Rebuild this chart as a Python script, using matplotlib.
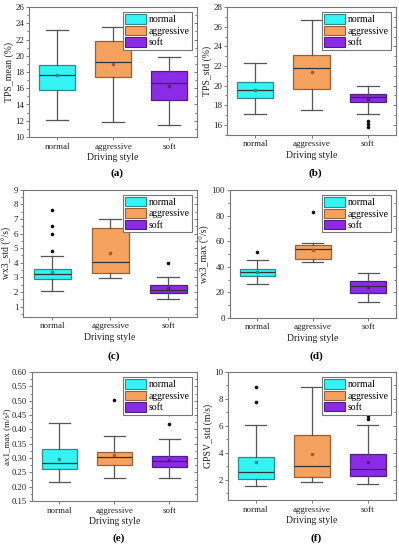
import matplotlib.pyplot as plt
from matplotlib.patches import Patch
from matplotlib.ticker import MultipleLocator

plt.rcParams['font.family'] = ['Liberation Serif', 'DejaVu Serif']
plt.rcParams['font.size'] = 7

styles = ['normal', 'aggressive', 'soft']
colors = ['#33f3f3', '#f5a25e', '#8b2be6']
edges = ['#2a8c8c', '#96603a', '#4e2080']

# per style: whisker low, Q1, median, Q3, whisker high
tps_mean = [[12.1, 15.8, 17.6, 18.9, 23.2],
            [11.9, 17.4, 19.2, 21.8, 23.6],
            [11.5, 14.6, 16.7, 18.1, 19.8]]
tps_mean_avg = [17.6, 19.0, 16.3]
tps_mean_out = [[], [], []]

tps_std = [[17.1, 18.7, 19.6, 20.4, 22.3],
           [17.5, 19.7, 21.8, 23.1, 26.7],
           [17.1, 18.3, 18.8, 19.2, 20.0]]
tps_std_avg = [19.6, 21.4, 18.6]
tps_std_out = [[], [], [16.4, 16.1, 15.8]]

wx3_std = [[2.1, 2.88, 3.2, 3.6, 4.45],
           [2.95, 3.3, 4.05, 6.4, 7.0],
           [1.5, 1.95, 2.15, 2.5, 3.0]]
wx3_std_avg = [3.4, 4.65, 2.25]
wx3_std_out = [[4.8, 6.0, 6.5, 7.6], [], [3.95]]

wx3_max = [[26.4, 32.4, 35.5, 38.4, 45.2],
           [44.0, 45.7, 53.5, 57.0, 58.7],
           [12.8, 19.8, 25.0, 29.0, 35.2]]
wx3_max_avg = [36.0, 53.0, 24.5]
wx3_max_out = [[51.2], [82.8], []]

ax1_max = [[0.216, 0.261, 0.282, 0.332, 0.421],
           [0.229, 0.276, 0.304, 0.322, 0.378],
           [0.230, 0.269, 0.289, 0.308, 0.366]]
ax1_max_avg = [0.297, 0.311, 0.293]
ax1_max_out = [[], [0.501], [0.418, 0.453]]

gpsv_std = [[1.5, 2.05, 2.6, 3.68, 6.05],
            [1.8, 2.17, 3.05, 5.33, 8.9],
            [1.7, 2.3, 2.82, 3.93, 6.05]]
gpsv_std_avg = [3.3, 3.9, 3.35]
gpsv_std_out = [[7.75, 8.9], [], [6.5, 6.7]]

fig = plt.figure(figsize=(3.99, 5.50), dpi=100)


def panel(rect, box, avg, out, ylabel, ylim, major, minor, tag):
    ax = fig.add_axes(rect)
    stats = []
    for s, m, f in zip(box, avg, out):
        stats.append(dict(whislo=s[0], q1=s[1], med=s[2], q3=s[3],
                          whishi=s[4], mean=m, fliers=f))
    bp = ax.bxp(stats, positions=[1, 2, 3], widths=0.64, capwidths=0.38,
                patch_artist=True, showmeans=True,
                whiskerprops=dict(color='#555555', lw=0.9),
                capprops=dict(color='#555555', lw=0.9),
                medianprops=dict(color='#333333', lw=0.9),
                flierprops=dict(marker='o', markersize=1.6,
                                markerfacecolor='#111111',
                                markeredgecolor='#111111'),
                meanprops=dict(marker='s', markersize=1.4))
    for i in range(3):
        bp['boxes'][i].set_facecolor(colors[i])
        bp['boxes'][i].set_edgecolor(edges[i])
        bp['boxes'][i].set_linewidth(0.9)
        bp['means'][i].set_markerfacecolor(edges[i])
        bp['means'][i].set_markeredgecolor(edges[i])
    ax.set_xlim(0.5, 3.5)
    ax.set_ylim(*ylim)
    ax.set_xticks([1, 2, 3], styles)
    ax.yaxis.set_major_locator(MultipleLocator(major))
    ax.yaxis.set_minor_locator(MultipleLocator(minor))
    ax.tick_params(axis='y', which='major', direction='out', length=2.5,
                   width=0.6, color='#666666', pad=1)
    ax.tick_params(axis='y', which='minor', direction='out', length=1.5,
                   width=0.6, color='#666666')
    ax.tick_params(axis='x', direction='out', length=2, width=0.6,
                   color='#666666', pad=2)
    ax.tick_params(labelcolor='#222222', labelsize=6.5)
    right = ax.secondary_yaxis('right')
    right.yaxis.set_major_locator(MultipleLocator(major))
    right.yaxis.set_minor_locator(MultipleLocator(minor))
    right.tick_params(which='major', direction='in', length=2.5, width=0.6,
                      color='#666666', labelright=False)
    right.tick_params(which='minor', direction='in', length=1.5, width=0.6,
                      color='#666666')
    right.spines['right'].set_visible(False)
    for sp in ax.spines.values():
        sp.set_color('#777777')
        sp.set_linewidth(0.8)
    ax.set_ylabel(ylabel, labelpad=1, color='#222222')
    ax.set_xlabel('Driving style', labelpad=2, color='#222222')
    handles = [Patch(facecolor=colors[i], edgecolor=edges[i], lw=0.8,
                     label=styles[i]) for i in range(3)]
    leg = ax.legend(handles=handles, loc='upper right', fontsize=7,
                    handlelength=2.1, handleheight=1.1, handletextpad=0.3,
                    labelspacing=0.15, borderpad=0.25, borderaxespad=0.5,
                    fancybox=False, framealpha=1)
    leg.get_frame().set_edgecolor('#777777')
    leg.get_frame().set_linewidth(0.8)
    fig.text(rect[0] + rect[2] / 2 + 0.01, tag[1], tag[0],
             ha='center', va='center', fontsize=8, fontweight='bold')
    return ax


panel([0.073, 0.751, 0.421, 0.236], tps_mean, tps_mean_avg, tps_mean_out,
      'TPS_mean (%)', (10, 26), 2, 1, ('(a)', 0.685))
panel([0.569, 0.755, 0.4235, 0.232], tps_std, tps_std_avg, tps_std_out,
      'TPS_std (%)', (15, 28), 2, 1, ('(b)', 0.685))
panel([0.058, 0.424, 0.436, 0.231], wx3_std, wx3_std_avg, wx3_std_out,
      'wx3_std (°/s)', (0.3, 9), 1, 0.5, ('(c)', 0.352))
panel([0.576, 0.422, 0.416, 0.2327], wx3_max, wx3_max_avg, wx3_max_out,
      'wx3_max (°/s)', (0, 100), 20, 10, ('(d)', 0.352))
ax_e = panel([0.080, 0.089, 0.4135, 0.2345], ax1_max, ax1_max_avg, ax1_max_out,
             'ax1_max (m/s²)', (0.15, 0.60), 0.05, 0.025, ('(e)', 0.022))
ax_e.yaxis.label.set_fontsize(6.5)
ax_e.tick_params(axis='y', labelsize=6.2)
ax_e.yaxis.set_label_coords(-0.128, 0.5)
panel([0.571, 0.091, 0.421, 0.2327], gpsv_std, gpsv_std_avg, gpsv_std_out,
      'GPSV_std (m/s)', (0.5, 10), 2, 1, ('(f)', 0.022))

fig.savefig('out.png', dpi=100)
